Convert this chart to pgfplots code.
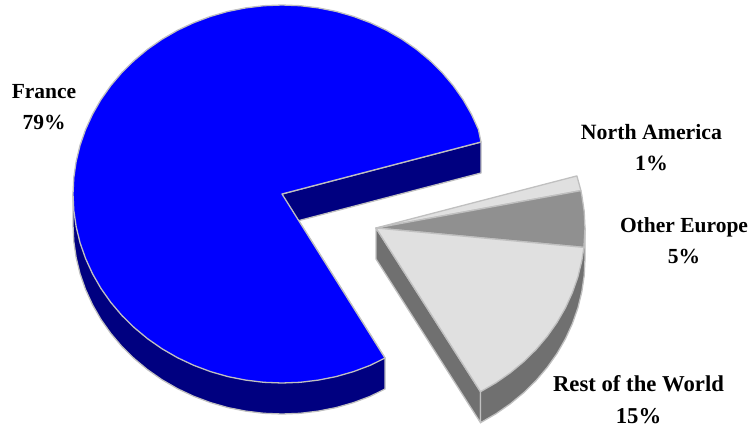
\documentclass[border=0pt]{standalone}
\usepackage{pgfplots}
\usepackage{fontspec}
\setmainfont{Liberation Serif}
\pgfplotsset{compat=1.18}
\definecolor{piebright}{HTML}{0000FF}
\definecolor{piedark}{HTML}{000080}
\definecolor{pielight}{HTML}{E0E0E0}
\definecolor{piemid}{HTML}{909090}
\definecolor{piewall}{HTML}{707070}
\definecolor{pieedge}{HTML}{C0C0C0}
\tikzset{lab/.style={font=\fontsize{21.5}{31}\selectfont\bfseries, align=center, inner sep=0pt, text=black}}
\begin{document}
\begin{tikzpicture}
\begin{axis}[
    scale only axis,
    width=752pt, height=429pt,
    xmin=0, xmax=752, ymin=0, ymax=429,
    y dir=reverse,
    hide axis,
    clip=false,
    no markers,
    every axis plot/.append style={draw=pieedge, line width=1.3pt, line join=round},
]
% keeps the page at the full picture size
\addplot[draw=none, line width=0pt] coordinates {(0,0) (752,429)};
% France: side wall, inner cut wall, top
\addplot[fill=piedark] coordinates {
    (73,194) (73,225) (73.8,241.5) (76.2,257.8) (80.1,273.9) (85.6,289.6) (92.6,304.9)
    (101,319.5) (110.8,333.4) (121.9,346.5) (134.2,358.6) (147.7,369.8) (162.1,379.8)
    (177.5,388.7) (193.7,396.3) (210.5,402.6) (227.9,407.6) (245.7,411.1) (263.8,413.3)
    (282,414) (300.2,413.3) (318.3,411.1) (336.1,407.6) (353.5,402.6) (370.3,396.3)
    (385,389) (385,358) (282,194)
} --cycle;
\addplot[fill=piedark] coordinates {(282,194) (481,142) (481,173) (282,225)} --cycle;
\addplot[fill=piebright] coordinates {
    (282,194) (481,142) (478.4,129.4) (471.4,114.1) (463,99.5) (453.2,85.6) (442.1,72.5)
    (429.8,60.4) (416.3,49.2) (401.9,39.2) (386.5,30.3) (370.3,22.7) (353.5,16.4)
    (336.1,11.4) (318.3,7.9) (300.2,5.7) (282,5) (263.8,5.7) (245.7,7.9) (227.9,11.4)
    (210.5,16.4) (193.7,22.7) (177.5,30.3) (162.1,39.2) (147.7,49.2) (134.2,60.4)
    (121.9,72.5) (110.8,85.6) (101,99.5) (92.6,114.1) (85.6,129.4) (80.1,145.1)
    (76.2,161.2) (73.8,177.5) (73,194) (73.8,210.5) (76.2,226.8) (80.1,242.9)
    (85.6,258.6) (92.6,273.9) (101,288.5) (110.8,302.4) (121.9,315.5) (134.2,327.6)
    (147.7,338.8) (162.1,348.8) (177.5,357.7) (193.7,365.3) (210.5,371.6) (227.9,376.6)
    (245.7,380.1) (263.8,382.3) (282,383) (300.2,382.3) (318.3,380.1) (336.1,376.6)
    (353.5,371.6) (370.3,365.3) (385,358)
} --cycle;
% exploded slices: walls
\addplot[fill=piewall] coordinates {(376,228) (376,259) (480.5,422.7) (480.5,391.7)} --cycle;
\addplot[fill=piewall] coordinates {
    (480.5,391.7) (480.5,422.7) (495.9,413.8) (510.3,403.8) (523.8,392.6) (536.1,380.5)
    (547.2,367.4) (557,353.5) (565.4,338.9) (572.4,323.6) (577.9,307.9) (581.8,291.8)
    (584.2,275.5) (585,259) (585,228) (583.9,247.4)
} --cycle;
% North America
\addplot[fill=pielight] coordinates {(376,228) (576.9,175.9) (580.9,190.6)} --cycle;
% Other Europe
\addplot[fill=piemid] coordinates {(376,228) (580.9,190.6) (581.8,195.2) (584.2,211.5) (585,228) (583.9,247.4)} --cycle;
% Rest of the World
\addplot[fill=pielight] coordinates {
    (376,228) (583.9,247.4) (581.8,260.8) (577.9,276.9) (572.4,292.6) (565.4,307.9)
    (557,322.5) (547.2,336.4) (536.1,349.5) (523.8,361.6) (510.3,372.8) (495.9,382.8)
    (480.5,391.7)
} --cycle;
\node[lab] at (axis cs:44,107) {France\\79\%};
\node[lab, font=\fontsize{21.8}{31}\selectfont\bfseries] at (axis cs:651.5,148) {North America\\1\%};
\node[lab] at (axis cs:684,241) {Other Europe\\5\%};
\node[lab, font=\fontsize{22.7}{31.5}\selectfont\bfseries] at (axis cs:638.5,399.5) {Rest of the World\\15\%};
\end{axis}
\end{tikzpicture}
\end{document}
